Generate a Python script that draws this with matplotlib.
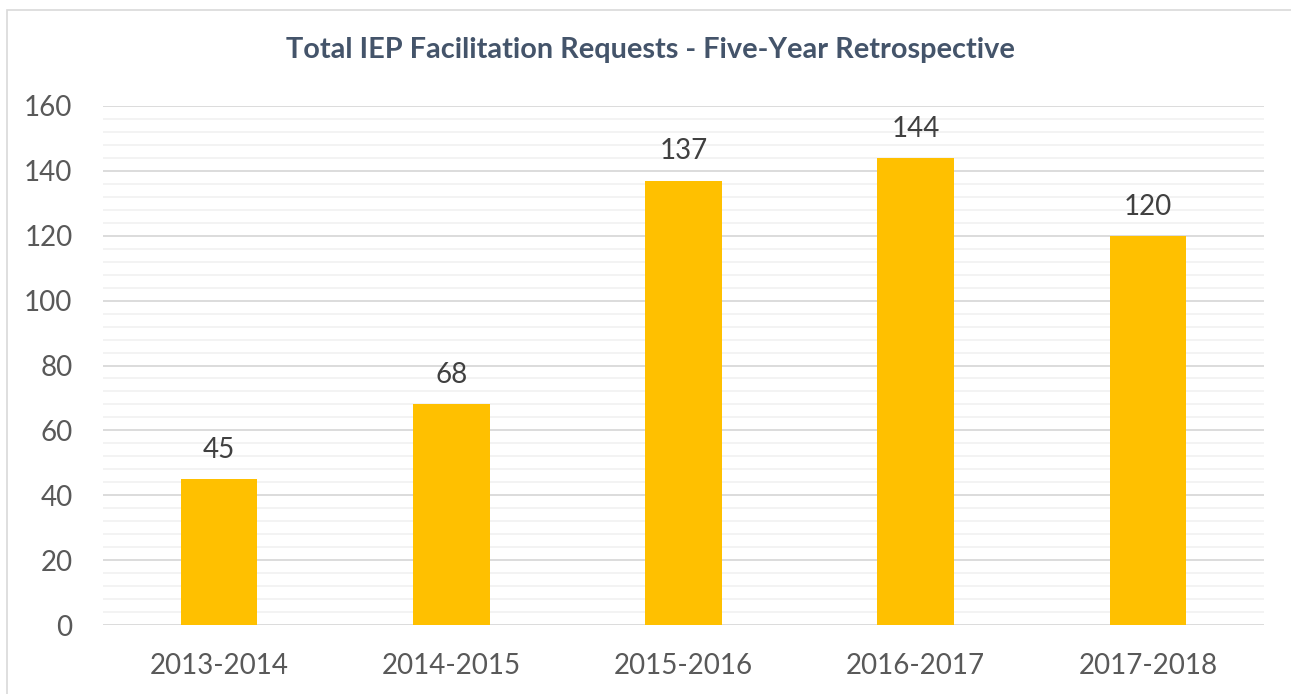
import matplotlib.pyplot as plt
from matplotlib.patches import Rectangle
from matplotlib.ticker import MultipleLocator

# data
years = ['2013-2014', '2014-2015', '2015-2016', '2016-2017', '2017-2018']
requests = [45, 68, 137, 144, 120]

W, H = 1291, 694
plt.rcParams['font.family'] = ['Lato', 'DejaVu Sans']

fig = plt.figure(figsize=(W / 100, H / 100), dpi=100)
fig.patches.append(Rectangle((7 / W, -0.1), 1.2, 1 - 10 / H + 0.1, transform=fig.transFigure,
                             fill=False, edgecolor='#D9D9D9', linewidth=1.2))

ax = fig.add_axes([103 / W, 1 - 625 / H, (1264 - 103) / W, (625 - 106) / H])
x = range(len(years))
bars = ax.bar(x, requests, width=0.33, color='#FFC000', zorder=3)
for b, v in zip(bars, requests):
    ax.text(b.get_x() + b.get_width() / 2, v + 5, str(v), ha='center', va='bottom',
            fontsize=20, color='#404040')

ax.set_xlim(-0.5, len(years) - 0.5)
ax.set_ylim(0, 160)
ax.yaxis.set_major_locator(MultipleLocator(20))
ax.yaxis.set_minor_locator(MultipleLocator(4))
ax.grid(axis='y', which='major', color='#D9D9D9', linewidth=1.3, zorder=0)
ax.grid(axis='y', which='minor', color='#F2F2F2', linewidth=1.3, zorder=0)
ax.set_xticks(list(x))
ax.set_xticklabels(years)
ax.tick_params(axis='both', which='both', length=0, labelsize=20, colors='#595959')
ax.tick_params(axis='x', pad=20)
ax.tick_params(axis='y', pad=22)
for s in ax.spines.values():
    s.set_visible(False)

fig.text(650 / W, 1 - 50 / H, 'Total IEP Facilitation Requests - Five-Year Retrospective',
         ha='center', va='center', fontsize=20.8, fontweight='bold', color='#44546A')

fig.savefig('out.png', dpi=100)
